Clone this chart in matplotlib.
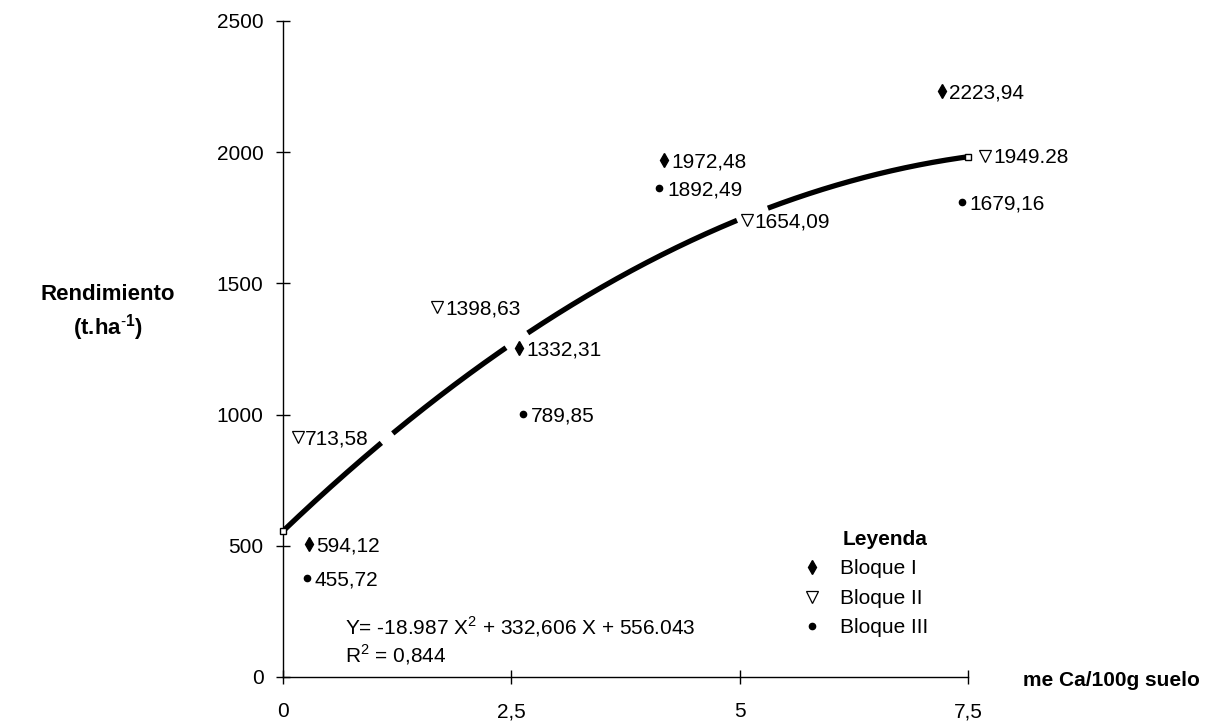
import numpy as np
import matplotlib
matplotlib.use("Agg")
import matplotlib.pyplot as plt
from matplotlib.lines import Line2D

plt.rcParams['font.family'] = ['Liberation Sans', 'DejaVu Sans']
plt.rcParams['mathtext.fontset'] = 'custom'
plt.rcParams['mathtext.rm'] = 'Liberation Sans'
plt.rcParams['mathtext.bf'] = 'Liberation Sans:bold'

# ---- data ----
bloque1_x = [0.28, 2.58, 4.17, 7.21]
bloque1_y = [507, 1254, 1970, 2233]
bloque1_lbl = ['594,12', '1332,31', '1972,48', '2223,94']

bloque2_x = [0.16, 1.69, 5.08, 7.69]
bloque2_y = [915, 1410, 1742, 1986]
bloque2_lbl = ['713,58', '1398,63', '1654,09', '1949.28']

bloque3_x = [0.26, 2.63, 4.12, 7.43]
bloque3_y = [377, 1003, 1864, 1810]
bloque3_lbl = ['455,72', '789,85', '1892,49', '1679,16']

fit_coef = [-18.987, 332.606, 556.043]
fit_range = [0.0, 7.5]
fit_gaps = [(1.08, 1.20), (2.45, 2.67), (4.98, 5.30)]

x_ticks = [0, 2.5, 5, 7.5]
x_ticklabels = ['0', '2,5', '5', '7,5']
y_ticks = [0, 500, 1000, 1500, 2000, 2500]
y_ticklabels = ['0', '500', '1000', '1500', '2000', '2500']

FS = 15

fig = plt.figure(figsize=(12.09, 7.23), dpi=100)
ax = fig.add_axes([283/1209, 1-677/723, 685/1209, 656/723])
ax.set_xlim(0, 7.5)
ax.set_ylim(0, 2500)

for s in ['top', 'right']:
    ax.spines[s].set_visible(False)
for s in ['left', 'bottom']:
    ax.spines[s].set_linewidth(1.0)

ax.set_xticks(x_ticks)
ax.set_xticklabels(x_ticklabels)
ax.set_yticks(y_ticks)
ax.set_yticklabels(y_ticklabels)
ax.tick_params(axis='both', direction='inout', length=10, width=1, labelsize=FS)
ax.tick_params(axis='y', pad=9)
ax.tick_params(axis='x', pad=13)

# trend line with gaps
xx = np.linspace(fit_range[0], fit_range[1], 600)
yy = np.polyval(fit_coef, xx)
mask = np.zeros_like(xx, dtype=bool)
for a, b in fit_gaps:
    mask |= (xx > a) & (xx < b)
yy_plot = np.where(mask, np.nan, yy)
ax.plot(xx, yy_plot, color='black', lw=3.8, solid_capstyle='butt', zorder=2)
ax.plot([fit_range[0], fit_range[1]], np.polyval(fit_coef, fit_range), ls='none',
        marker='s', ms=5, mfc='white', mec='black', mew=1, zorder=3, clip_on=False)

# markers
ax.plot(bloque1_x, bloque1_y, ls='none', marker='d', ms=7, color='black', clip_on=False, zorder=4)
ax.plot(bloque2_x, bloque2_y, ls='none', marker='v', ms=9, mfc='white', mec='black', mew=0.9,
        clip_on=False, zorder=4)
ax.plot(bloque3_x, bloque3_y, ls='none', marker='o', ms=4.5, color='black', clip_on=False, zorder=4)

for xs, ys, ls in [(bloque1_x, bloque1_y, bloque1_lbl),
                   (bloque2_x, bloque2_y, bloque2_lbl),
                   (bloque3_x, bloque3_y, bloque3_lbl)]:
    for x, y, l in zip(xs, ys, ls):
        ax.annotate(l, (x, y), xytext=(5.5, 0), textcoords='offset points',
                    ha='left', va='center_baseline', fontsize=FS, annotation_clip=False)

# equation
fig.text(345/1209, 1-627/723, 'Y= -18.987 X$^{2}$ + 332,606 X + 556.043', fontsize=FS,
         ha='left', va='center')
fig.text(345/1209, 1-655/723, 'R$^{2}$ = 0,844', fontsize=FS, ha='left', va='center')

# axis labels
fig.text(108/1209, 1-295/723, 'Rendimiento', fontsize=16, fontweight='bold',
         ha='center', va='center')
fig.text(108/1209, 1-328/723, r'(t.ha$^{\mathbf{\text{-}1}}$)', fontsize=16, fontweight='bold',
         ha='center', va='center')
fig.text(1023/1209, 1-681/723, 'me Ca/100g suelo', fontsize=FS, fontweight='bold',
         ha='left', va='center')

# legend
handles = [
    Line2D([], [], ls='none', marker='d', ms=7, color='black'),
    Line2D([], [], ls='none', marker='v', ms=9, mfc='white', mec='black', mew=0.9),
    Line2D([], [], ls='none', marker='o', ms=4.5, color='black'),
]
leg = fig.legend(handles, ['Bloque I', 'Bloque II', 'Bloque III'], title='Leyenda',
                 title_fontproperties={'weight': 'bold', 'size': FS}, fontsize=FS,
                 frameon=False, loc='upper left', bbox_to_anchor=(802/1209, 1-530/723),
                 borderpad=0, borderaxespad=0, handlelength=1.0, handletextpad=0.8,
                 labelspacing=0.5, alignment='right')

fig.savefig('out.png', dpi=100)
